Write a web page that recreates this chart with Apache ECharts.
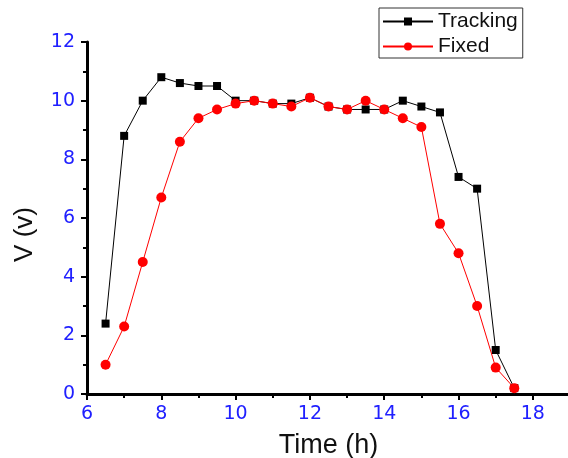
<!DOCTYPE html>
<html>
<head>
<meta charset="utf-8">
<script src="https://cdn.jsdelivr.net/npm/echarts@6/dist/echarts.min.js"></script>
<style>html,body{margin:0;padding:0;background:#fff}#c{width:568px;height:458px}</style>
</head>
<body>
<div id="c"></div>
<script>
var hours = [6.5,7,7.5,8,8.5,9,9.5,10,10.5,11,11.5,12,12.5,13,13.5,14,14.5,15,15.5,16,16.5,17,17.5];
var tracking = [2.4,8.8,10.0,10.8,10.6,10.5,10.5,10.0,10.0,9.9,9.9,10.1,9.8,9.7,9.7,9.7,10.0,9.8,9.6,7.4,7.0,1.5,0.2];
var fixed = [1.0,2.3,4.5,6.7,8.6,9.4,9.7,9.9,10.0,9.9,9.8,10.1,9.8,9.7,10.0,9.7,9.4,9.1,5.8,4.8,3.0,0.9,0.2];
var seriesNames = ['Tracking','Fixed'];

function pairs(xs, ys){ return xs.map(function(x,i){ return [x, ys[i]]; }); }

var chart = echarts.init(document.getElementById('c'), null, {renderer:'canvas'});
var font = 'Liberation Sans, Arial, sans-serif';
var tickFont = 'DejaVu Sans, sans-serif';
var labelColor = '#2020ff';
chart.setOption({
  animation:false,
  backgroundColor:'#fff',
  grid:{left:87, right:-2, top:42, bottom:64, containLabel:false, outerBoundsMode:'none'},
  legend:{
    orient:'vertical', left:379, top:8,
    borderColor:'#333', borderWidth:1, padding:[3,5,1,3],
    itemWidth:50, itemHeight:10, itemGap:4,
    textStyle:{fontFamily:font, fontSize:21, color:'#111'},
    data: seriesNames
  },
  xAxis:{
    type:'value', min:6, max:19, interval:2,
    name:'Time (h)', nameLocation:'middle', nameGap:38,
    nameTextStyle:{fontFamily:font, fontSize:27, color:'#111'},
    axisLine:{show:true, lineStyle:{color:'#000', width:3}},
    axisTick:{show:true, inside:false, length:6, lineStyle:{width:2, color:'#000'}},
    minorTick:{show:true, splitNumber:2, length:4, lineStyle:{width:2, color:'#000'}},
    axisLabel:{fontFamily:tickFont, fontSize:19, color:labelColor, margin:11, showMaxLabel:false},
    splitLine:{show:false}
  },
  yAxis:{
    type:'value', min:0, max:12, interval:2,
    axisLine:{show:true, lineStyle:{color:'#000', width:3}},
    axisTick:{show:true, inside:false, length:6, lineStyle:{width:2, color:'#000'}},
    minorTick:{show:true, splitNumber:2, length:4, lineStyle:{width:2, color:'#000'}},
    axisLabel:{fontFamily:tickFont, fontSize:19, color:labelColor, margin:12},
    splitLine:{show:false}
  },
  graphic:[{
    type:'text', left:12, top:207, rotation:Math.PI/2,
    style:{text:'V (v)', fontFamily:font, fontSize:26, fill:'#111'}
  }],
  series:[
    {name:seriesNames[0], type:'line', data:pairs(hours, tracking), symbol:'rect', symbolSize:8,
     itemStyle:{color:'#000'}, lineStyle:{color:'#000', width:1}, z:2},
    {name:seriesNames[1], type:'line', data:pairs(hours, fixed), symbol:'circle', symbolSize:10,
     itemStyle:{color:'#ff0000'}, lineStyle:{color:'#ff0000', width:1}, z:3}
  ]
});
</script>
</body>
</html>
